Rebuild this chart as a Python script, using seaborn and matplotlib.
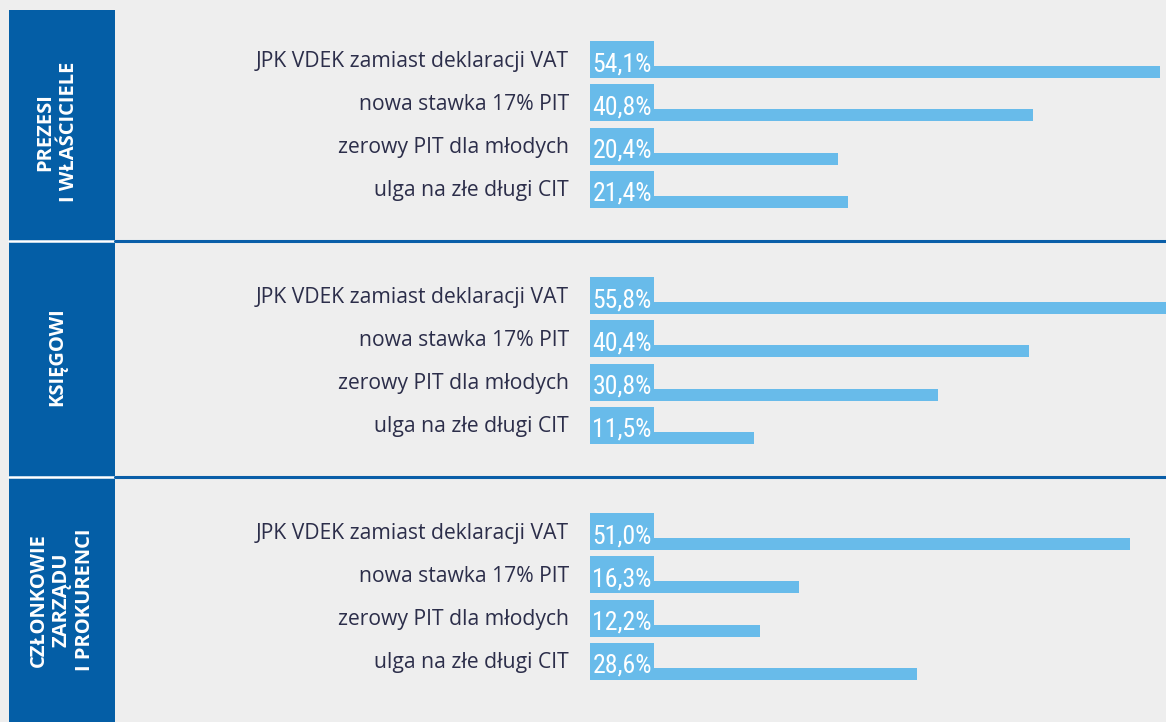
import numpy as np
import pandas as pd
import matplotlib
matplotlib.use("Agg")
import matplotlib.pyplot as plt
import seaborn as sns
from matplotlib import font_manager
from matplotlib.patches import Rectangle
from matplotlib.lines import Line2D
import matplotlib.transforms as mtransforms

# ---------------- data ----------------
groups = ["PREZESI\nI WŁAŚCICIELE", "KSIĘGOWI", "CZŁONKOWIE\nZARZĄDU\nI PROKURENCI"]
categories = [
    "JPK VDEK zamiast deklaracji VAT",
    "nowa stawka 17% PIT",
    "zerowy PIT dla młodych",
    "ulga na złe długi CIT",
]
prezesi = [54.1, 40.8, 20.4, 21.4]
ksiegowi = [55.8, 40.4, 30.8, 11.5]
czlonkowie = [51.0, 16.3, 12.2, 28.6]
group_values = [prezesi, ksiegowi, czlonkowie]

# ---------------- style ----------------
BG = "#eeeeee"
PANEL = "#045ea6"
BAR = "#68bbea"
LINE = "#0a5ea8"
LABEL = "#2c2e4a"

sns.set_theme(style="white")
plt.rcParams["font.family"] = ["Open Sans", "DejaVu Sans"]

available = {f.name for f in font_manager.fontManager.ttflist}
value_font = "DejaVu Sans"
for cand in ["Roboto Condensed", "Open Sans Condensed", "Liberation Sans Narrow",
             "DejaVu Sans Condensed", "Noto Sans Condensed"]:
    if cand in available:
        value_font = cand
        break

W, H = 1166, 722
fig = plt.figure(figsize=(W / 100, H / 100), dpi=100)
fig.patch.set_facecolor(BG)


def px(x0, y0, w, h):
    return [x0 / W, 1 - (y0 + h) / H, w / W, h / H]


# left dark panel
fig.add_artist(Rectangle((9 / W, 0), 106 / W, (H - 10) / H,
                         transform=fig.transFigure, facecolor=PANEL,
                         edgecolor="none", lw=0, zorder=0))

# separators
for ysep in [241, 477]:
    fig.add_artist(Line2D([9 / W, 115 / W], [1 - ysep / H] * 2, color="white",
                          lw=1.8, transform=fig.transFigure, zorder=2))
    fig.add_artist(Line2D([115 / W, 1], [1 - ysep / H] * 2, color=LINE,
                          lw=2.2, transform=fig.transFigure, zorder=2))

# group titles
title_pos = [(57, 132), (57, 357), (62, 600)]
for g, (tx, ty) in zip(groups, title_pos):
    fig.text(tx / W, 1 - ty / H, g, rotation=90, ha="center", va="center",
             multialignment="center", color="white", fontweight="bold",
             fontsize=14.5, family=["Open Sans", "DejaVu Sans"])

ROW = 43.33
for gi, vals in enumerate(group_values):
    top = 5 + 236 * gi
    ax = fig.add_axes(px(590, top, 576, 236))
    ax.set_facecolor("none")
    df = pd.DataFrame({"kategoria": categories, "wartosc": vals})
    sns.barplot(data=df, x="wartosc", y="kategoria", color=BAR, saturation=1,
                width=12 / ROW, orient="h", ax=ax, zorder=2,
                linewidth=0, edgecolor="none")
    ax.set_xlim(-5.67, 54.77)
    ax.set_ylim(3 + 39 / ROW, -67 / ROW)
    ax.set_xlabel("")
    ax.set_ylabel("")
    ax.set_xticks([])
    ax.set_yticks([])
    for s in ax.spines.values():
        s.set_visible(False)
    trans = mtransforms.blended_transform_factory(ax.transAxes, ax.transData)
    bar_bottom = 6 / ROW
    box_h = 37 / ROW
    for i, (cat, v) in enumerate(zip(categories, vals)):
        ax.add_patch(Rectangle((0, i + bar_bottom - box_h), 64 / 576, box_h,
                               transform=trans, facecolor=BAR,
                               edgecolor="none", lw=0, zorder=3,
                               clip_on=False))
        ax.text(32 / 576, i + bar_bottom - 7 / ROW,
                f"{v:.1f}%".replace(".", ","), transform=trans, ha="center",
                va="baseline", color="white", fontsize=18.5, family=value_font,
                zorder=4)
        ax.text(-21 / 576, i + bar_bottom - box_h / 2 + 1.5 / ROW, cat,
                transform=trans, ha="right", va="center", color=LABEL,
                fontsize=15.2, clip_on=False)

fig.savefig("out.png", dpi=100, facecolor=BG)
